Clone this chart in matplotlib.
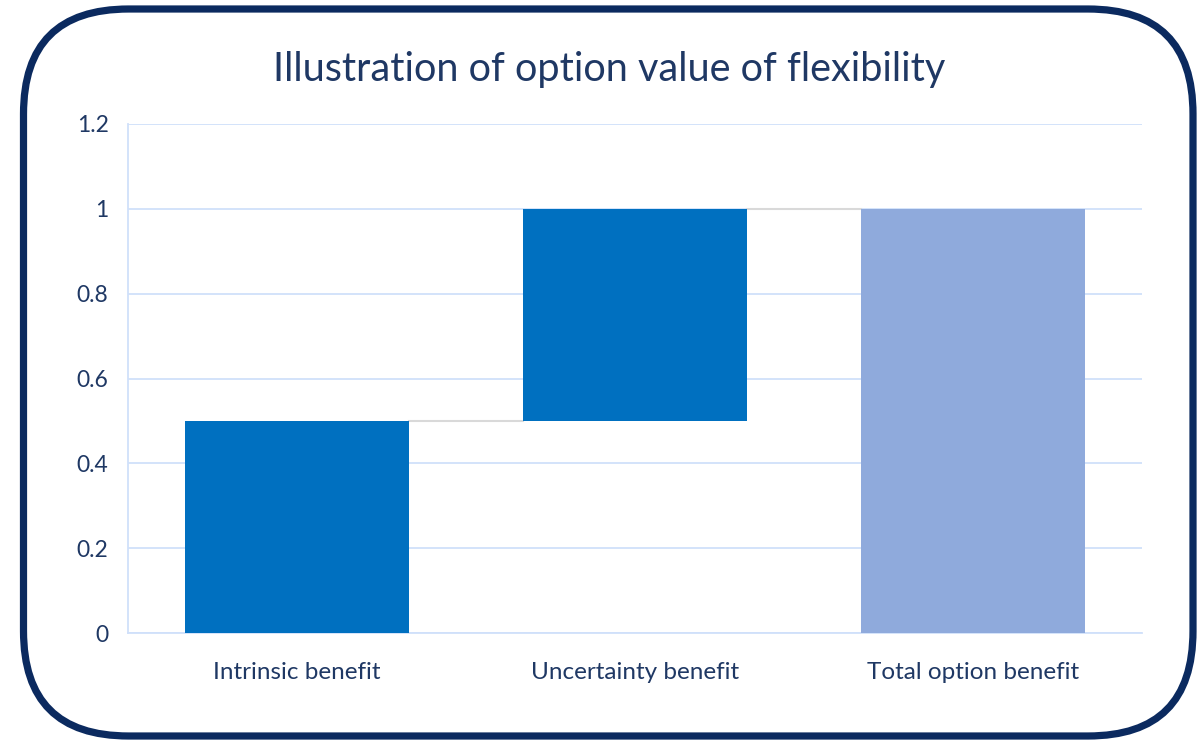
import matplotlib
matplotlib.use('Agg')
from matplotlib import pyplot as plt
from matplotlib.patches import FancyBboxPatch

# waterfall data
categories = ["Intrinsic benefit", "Uncertainty benefit", "Total option benefit"]
bar_bottoms = [0.0, 0.5, 0.0]
bar_heights = [0.5, 0.5, 1.0]
bar_colors = ["#0070c0", "#0070c0", "#8faadc"]
yticks = [0, 0.2, 0.4, 0.6, 0.8, 1.0, 1.2]
ytick_labels = ["0", "0.2", "0.4", "0.6", "0.8", "1", "1.2"]
title = "Illustration of option value of flexibility"

navy = "#1f3864"
grid_blue = "#d0e0fa"

plt.rcParams['font.family'] = ['Lato', 'DejaVu Sans']

W, H = 1204, 742
fig = plt.figure(figsize=(W / 100, H / 100), dpi=100)

# background axes in pixel units for the rounded frame
bg = fig.add_axes([0, 0, 1, 1])
bg.set_xlim(0, W)
bg.set_ylim(H, 0)
bg.axis('off')
r = 105
frame = FancyBboxPatch((23.5 + r, 9 + r), 1193 - 23.5 - 2 * r, 736 - 9 - 2 * r,
                       boxstyle="round,pad=%d,rounding_size=%d" % (r, r),
                       facecolor="white", edgecolor="#0b2a5f", linewidth=5.2)
bg.add_patch(frame)

# plot axes: x 128..1142, y 124..633 in pixels
ax = fig.add_axes([128 / W, 1 - 633 / H, (1142 - 128) / W, (633 - 124) / H])
ax.set_facecolor("none")
x = list(range(len(categories)))
width = 0.66
ax.bar(x, bar_heights, width=width, bottom=bar_bottoms, color=bar_colors, zorder=3)

# connector lines between bars
for i in range(len(categories) - 1):
    level = bar_bottoms[i] + bar_heights[i]
    ax.plot([x[i] + width / 2, x[i + 1] - width / 2], [level, level],
            color="#d9d9d9", linewidth=1.5, zorder=2)

ax.set_xlim(-0.5, len(categories) - 0.5)
ax.set_ylim(0, 1.2)
ax.set_yticks(yticks)
ax.set_yticklabels(ytick_labels)
ax.set_xticks(x)
ax.set_xticklabels(categories)
ax.yaxis.grid(True, color=grid_blue, linewidth=1.3, zorder=1)
ax.set_axisbelow(True)
for side in ["top", "right"]:
    ax.spines[side].set_visible(False)
for side in ["left", "bottom"]:
    ax.spines[side].set_color(grid_blue)
    ax.spines[side].set_linewidth(1.3)
ax.tick_params(axis='both', length=0, colors=navy)
ax.tick_params(axis='y', labelsize=16.5, pad=14)
ax.tick_params(axis='x', labelsize=17.5, pad=21)

fig.text(609 / W, 1 - 70 / H, title, ha='center', va='center',
         fontsize=28.5, color=navy)

fig.savefig("out.png", dpi=100)
